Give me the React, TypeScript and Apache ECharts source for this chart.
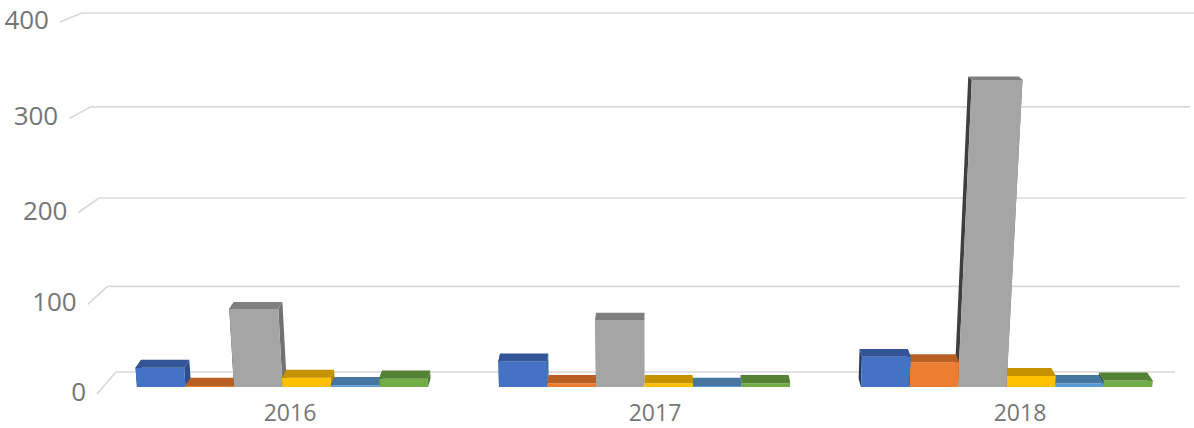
import { useEffect, useRef } from "react";
import * as echarts from "echarts";

const categories = ["2016", "2017", "2018"];
const series1 = [21, 28, 33];
const series2 = [1, 4, 27];
const series3 = [85, 73, 335];
const series4 = [10, 4, 12];
const series5 = [2, 1, 4];
const series6 = [9, 4, 7];
const seriesNames = ["Series 1", "Series 2", "Series 3", "Series 4", "Series 5", "Series 6"];
const yTicks = [0, 100, 200, 300, 400];

const palettes = [
  { front: "#4472C4", top: "#325597", right: "#2E4F8C", left: "#1F3864" },
  { front: "#ED7D31", top: "#B85F24", right: "#A9571F", left: "#843C0C" },
  { front: "#A5A5A5", top: "#7F7F7F", right: "#727272", left: "#3F3F3F" },
  { front: "#FFC000", top: "#C49200", right: "#B38600", left: "#7F6000" },
  { front: "#5B9BD5", top: "#4575A0", right: "#3E6A92", left: "#1F4E79" },
  { front: "#70AD47", top: "#548235", right: "#4C7830", left: "#375623" },
];

const CX = 650; // perspective centre
const LEAN = 1.46e-4;
const DEPTH_X = 0.011;
const TEXT_COLOR = "#767676";
const FONT = "'Open Sans', 'Noto Sans', sans-serif";

function makeBarRender(si: number) {
  const pal = palettes[si];
  return (params: any, api: any) => {
    const c = api.value(0);
    const v = api.value(1);
    const [xc, yt] = api.coord([c, v]);
    const [, yb] = api.coord([c, 0]);
    const band = api.size([1, 0])[0];
    const barW = band * 0.134;
    const groupW = barW * 6;
    const xl = xc - groupW / 2 + si * barW;
    const xr = xl + barW;
    const h = yb - yt;
    const lean = (x: number) => (x - CX) * LEAN * h;
    const FBL = [xl, yb];
    const FBR = [xr, yb];
    const FTL = [xl + lean(xl), yt];
    const FTR = [xr + lean(xr), yt];
    const dyB = 8.3;
    const dyT = 8.3 - h * 0.016;
    const back = (p: number[], dy: number) => [p[0] + (CX - p[0]) * DEPTH_X, p[1] - dy];
    const BBL = back(FBL, dyB);
    const BBR = back(FBR, dyB);
    const BTL = back(FTL, dyT);
    const BTR = back(FTR, dyT);
    const zb = 1000 - Math.round(Math.abs((xl + xr) / 2 - CX)) * 4;
    return {
      type: "group",
      children: [
        { type: "polygon", z2: zb, shape: { points: [FBL, FTL, BTL, BBL] }, style: { fill: pal.left } },
        { type: "polygon", z2: zb, shape: { points: [FBR, FTR, BTR, BBR] }, style: { fill: pal.right } },
        { type: "polygon", z2: zb + 1, shape: { points: [FBL, FBR, FTR, FTL] }, style: { fill: pal.front } },
        { type: "polygon", z2: zb + 2, shape: { points: [FTL, FTR, BTR, BTL] }, style: { fill: pal.top } },
      ],
    };
  };
}

function tickRender(params: any, api: any) {
  const v = api.value(1);
  const [, byLin] = api.coord([0, v]);
  const [, by0] = api.coord([0, 0]);
  const [, byMax] = api.coord([0, 400]);
  const t = (by0 - byLin) / (by0 - byMax);
  const bump = t * (1 - t);
  const by = byLin + 22 * bump; // slight perspective curvature of the back wall
  const bxs = 116 - t * 34;
  const bxe = 1175 + t * 20;
  const fy = byLin + 22 - (by0 - byLin) * 0.0362 + 18 * bump;
  const fx = bxs - 19 - t * 3;
  return {
    type: "group",
    children: [
      { type: "line", z2: 1, shape: { x1: bxs, y1: by, x2: bxe, y2: by }, style: { stroke: "#d9d9d9", lineWidth: 1.7 } },
      { type: "line", z2: 1, shape: { x1: fx, y1: fy, x2: bxs, y2: by }, style: { stroke: "#d9d9d9", lineWidth: 1.7 } },
      {
        type: "text",
        z2: 1,
        x: fx - 11,
        y: fy - 3,
        style: {
          text: String(v),
          align: "right",
          verticalAlign: "middle",
          fontSize: 26,
          fontFamily: FONT,
          fill: TEXT_COLOR,
        },
      },
    ],
  };
}

export default function App() {
  const ref = useRef<HTMLDivElement>(null);
  useEffect(() => {
    if (!ref.current) return;
    const chart = echarts.init(ref.current, undefined, { renderer: "svg" });
    const allSeries = [series1, series2, series3, series4, series5, series6];
    chart.setOption({
      animation: false,
      backgroundColor: "#ffffff",
      grid: [
        { left: 101.5, width: 1086, top: 20.4, height: 366.6 },
        { left: 290, width: 730, top: 13, height: 359 },
      ],
      xAxis: [
        { type: "category", gridIndex: 0, data: categories, show: false },
        {
          type: "category",
          gridIndex: 1,
          data: categories,
          boundaryGap: false,
          axisLine: { show: false },
          axisTick: { show: false },
          splitLine: { show: false },
          axisLabel: { margin: 28.5, fontSize: 23, lineHeight: 23, fontFamily: FONT, color: TEXT_COLOR },
        },
      ],
      yAxis: [
        { type: "value", gridIndex: 0, min: 0, max: 400, interval: 100, show: false },
        { type: "value", gridIndex: 1, min: 0, max: 400, interval: 100, show: false },
      ],
      series: [
        {
          type: "custom",
          name: "ticks",
          xAxisIndex: 1,
          yAxisIndex: 1,
          silent: true,
          clip: false,
          data: yTicks.map((v) => [0, v]),
          renderItem: tickRender,
          z: 1,
        },
        ...allSeries.map((vals, si) => ({
          type: "custom",
          name: seriesNames[si],
          xAxisIndex: 0,
          yAxisIndex: 0,
          clip: false,
          data: vals.map((v, c) => [c, v]),
          renderItem: makeBarRender(si),
          z: 2,
        })),
      ],
    });
    return () => chart.dispose();
  }, []);
  return (
    <div
      ref={ref}
      style={{ position: "fixed", left: 0, top: 0, width: 1194, height: 428, background: "#fff" }}
    />
  );
}
